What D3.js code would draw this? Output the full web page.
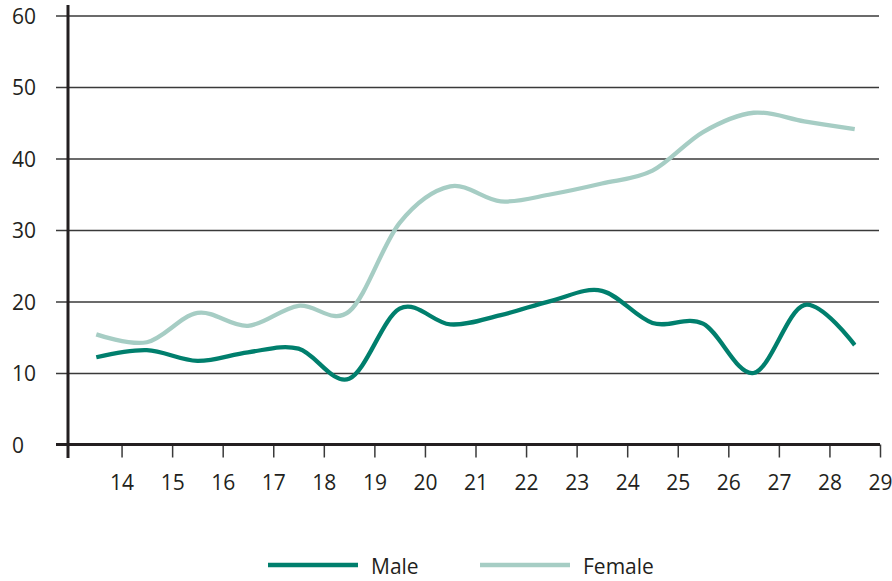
<!DOCTYPE html>
<html>
<head>
<meta charset="utf-8">
<script src="https://cdn.jsdelivr.net/npm/d3@7"></script>
<style>
  body { margin: 0; background: #fff; }
  svg text { font-family: "Open Sans", "Noto Sans", sans-serif; fill: #231f20; }
</style>
</head>
<body>
<svg id="chart" width="892" height="581"></svg>
<script>
// ages (points sit half-way between the yearly ticks)
const ages = [13.5, 14.5, 15.5, 16.5, 17.5, 18.5, 19.5, 20.5, 21.5, 22.5, 23.5, 24.5, 25.5, 26.5, 27.5, 28.5]
const male = [12.2, 13.2, 11.7, 12.9, 13.4, 9.2, 19.0, 16.8, 18.1, 20.1, 21.5, 17.0, 16.9, 10.0, 19.5, 13.9]
const female = [15.4, 14.3, 18.4, 16.6, 19.4, 18.6, 31.0, 36.1, 34.0, 35.0, 36.5, 38.3, 43.7, 46.4, 45.2, 44.1]
const xTicks = [14, 15, 16, 17, 18, 19, 20, 21, 22, 23, 24, 25, 26, 27, 28, 29]
const yTicks = [0, 10, 20, 30, 40, 50, 60]
const seriesNames = ['Male', 'Female']

const maleColor = '#007f6d'
const femaleColor = '#a6cdc4'
const axisColor = '#231f20'

const svg = d3.select('#chart')

const x = d3.scaleLinear().domain([13, 29]).range([71, 880])
const y = d3.scaleLinear().domain([0, 60]).range([444.5, 15.5])

const gridLeft = 56
const gridRight = 879
const axisX = 68

// gridlines + y labels
const yAxis = d3.axisLeft(y)
  .tickValues(yTicks)
  .tickSize(gridRight - gridLeft)
  .tickFormat(d3.format('d'))

const gy = svg.append('g')
  .attr('transform', `translate(${gridRight},0)`)
  .call(yAxis)
gy.select('.domain').remove()
gy.selectAll('.tick line')
  .attr('stroke', '#3a3a3a')
  .attr('stroke-width', 1.5)
gy.selectAll('.tick text')
  .attr('x', 12 - gridRight)
  .attr('dy', '0.36em')
  .attr('text-anchor', 'start')
  .style('font-size', '21px')

// x axis ticks + labels
const xAxis = d3.axisBottom(x)
  .tickValues(xTicks)
  .tickSize(13)
  .tickFormat(d3.format('d'))

const gx = svg.append('g')
  .attr('transform', `translate(0,${y(0)})`)
  .call(xAxis)
gx.select('.domain').remove()
gx.selectAll('.tick line')
  .attr('stroke', '#3a3a3a')
  .attr('stroke-width', 1.5)
gx.selectAll('.tick text')
  .attr('y', 45.5)
  .attr('dy', 0)
  .style('font-size', '21px')

// axis lines
svg.append('line')
  .attr('x1', gridLeft).attr('x2', gridRight + 1)
  .attr('y1', y(0)).attr('y2', y(0))
  .attr('stroke', axisColor)
  .attr('stroke-width', 3)

svg.append('line')
  .attr('x1', axisX).attr('x2', axisX)
  .attr('y1', 5).attr('y2', 458)
  .attr('stroke', axisColor)
  .attr('stroke-width', 3)

// series
const line = d3.line()
  .x((d, i) => x(ages[i]))
  .y(d => y(d))
  .curve(d3.curveCardinal.tension(0))

svg.append('path')
  .datum(female)
  .attr('d', line)
  .attr('fill', 'none')
  .attr('stroke', femaleColor)
  .attr('stroke-width', 4.3)

svg.append('path')
  .datum(male)
  .attr('d', line)
  .attr('fill', 'none')
  .attr('stroke', maleColor)
  .attr('stroke-width', 4.3)

// legend
const legend = svg.selectAll('g.legend')
  .data(seriesNames)
  .enter()
  .append('g')
    .attr('class', 'legend')
    .attr('transform', (d, i) => `translate(${268 + i * 212}, 565)`)

legend.append('line')
  .attr('x1', 0).attr('x2', 90)
  .attr('y1', 0).attr('y2', 0)
  .attr('stroke', (d, i) => i === 0 ? maleColor : femaleColor)
  .attr('stroke-width', 4.5)

legend.append('text')
  .attr('x', 103)
  .attr('y', 8.5)
  .style('font-size', '21px')
  .text(d => d)
</script>
</body>
</html>
